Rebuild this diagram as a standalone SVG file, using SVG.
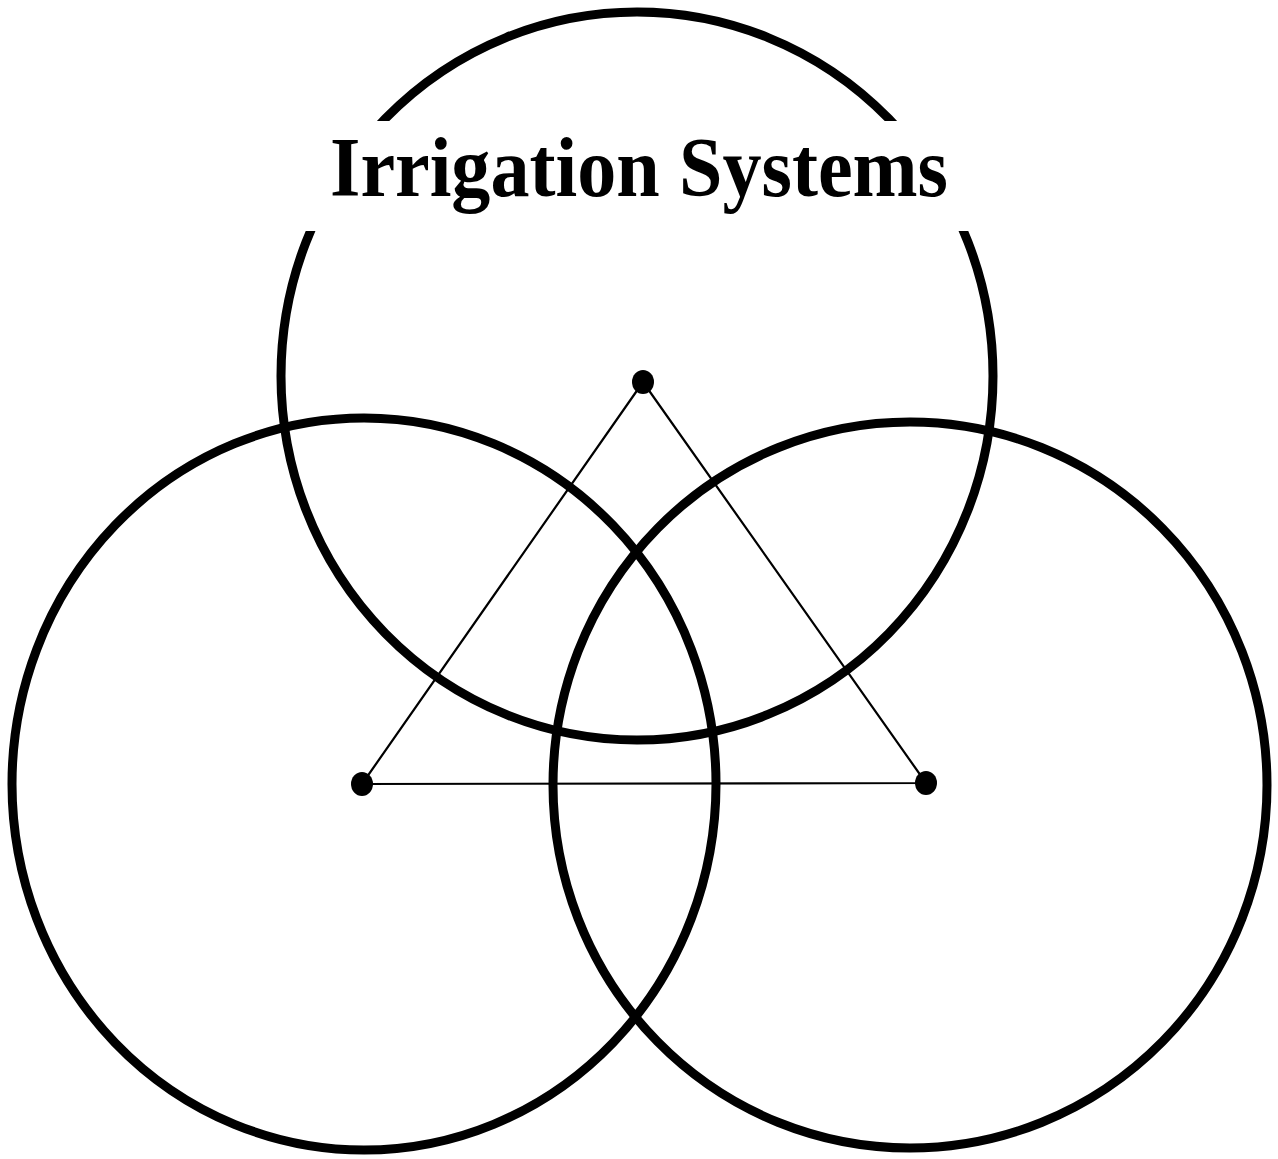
<svg xmlns="http://www.w3.org/2000/svg" width="1278" height="1159" viewBox="0 0 1278 1159">
<style>
.ring{fill:none;stroke:#000;stroke-width:9}
.edge{fill:none;stroke:#000;stroke-width:2.2}
.dot{fill:#000}
.title{font-family:"Liberation Serif","Times New Roman",serif;font-weight:bold;font-size:84px;fill:#000}
</style>
<rect width="1278" height="1159" fill="#fff"/>
<g id="circle-top"><ellipse class="ring" cx="637" cy="376" rx="356" ry="364"/></g>
<g id="circle-left"><ellipse class="ring" cx="364" cy="784" rx="352" ry="366"/></g>
<g id="circle-right"><ellipse class="ring" cx="910" cy="785" rx="357" ry="363"/></g>
<g id="title">
<rect x="290" y="121" width="700" height="110" fill="#fff"/>
<text class="title" x="330" y="196" textLength="618" lengthAdjust="spacingAndGlyphs">Irrigation Systems</text>
</g>
<g id="connectors">
<polygon class="edge" points="643,382 362,784 926,783"/>
</g>
<g id="node-top"><ellipse class="dot" cx="643" cy="382" rx="11" ry="12"/></g>
<g id="node-left"><ellipse class="dot" cx="362" cy="784" rx="11" ry="12"/></g>
<g id="node-right"><ellipse class="dot" cx="926" cy="783" rx="11" ry="12"/></g>
</svg>
